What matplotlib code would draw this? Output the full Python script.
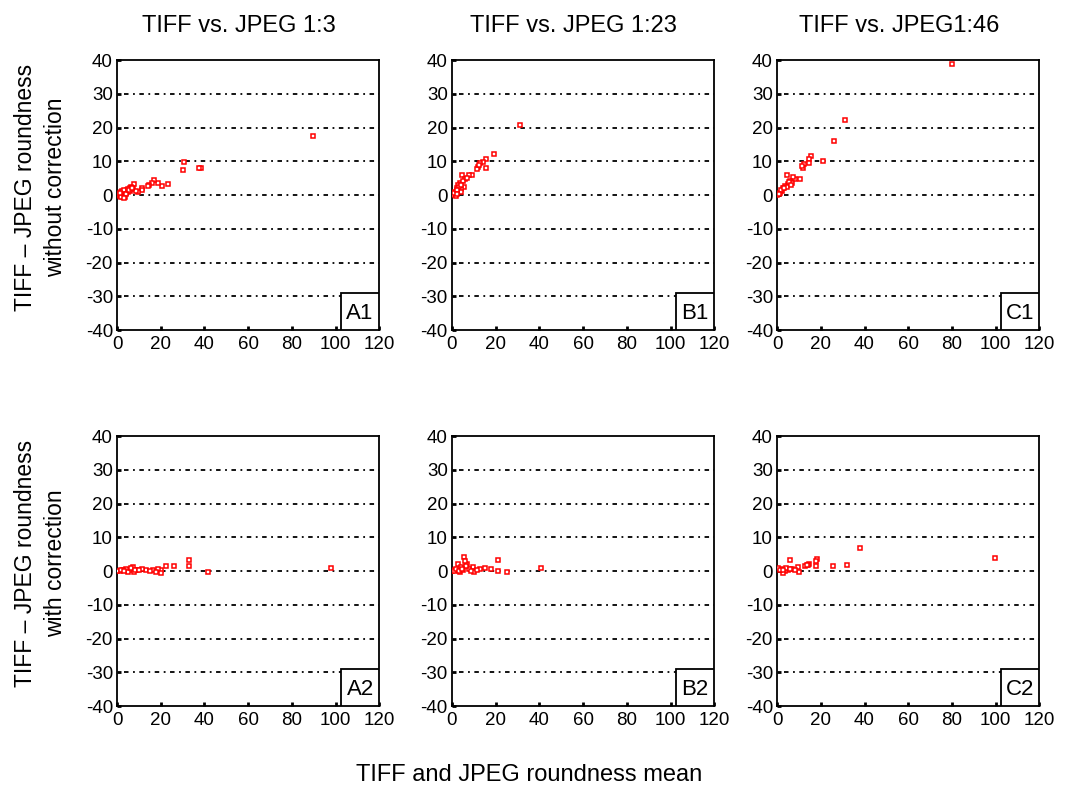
import matplotlib
matplotlib.use("Agg")
import matplotlib.pyplot as plt
from matplotlib.patches import Rectangle

plt.rcParams['font.family'] = ['Liberation Sans', 'DejaVu Sans']
plt.rcParams['axes.unicode_minus'] = False

titles = ["TIFF vs. JPEG 1:3", "TIFF vs. JPEG 1:23", "TIFF vs. JPEG1:46"]
row_labels = ["TIFF \u2013 JPEG roundness\nwithout correction",
              "TIFF \u2013 JPEG roundness\nwith correction"]
panel_tags = [["A1", "B1", "C1"], ["A2", "B2", "C2"]]

# without correction
a1_x = [89.7, 30.6, 30.0, 38.2, 37.6, 23.5, 20.6, 18.8, 17.0, 16.2, 14.7, 14.0, 11.3, 11.3, 9.6,
        7.6, 6.6, 5.9, 4.4, 3.7, 2.9, 2.2, 1.5, 0.7, 3.7, 5.1, 7.4, 8.5, 2.6, 1.9, 6.1, 0.2,
        1.0, 1.8, 2.4, 3.2, 4.0, 4.8, 5.5, 6.8, 3.0, 1.3]
a1_y = [17.5, 9.9, 7.5, 7.9, 7.9, 3.2, 2.7, 3.7, 4.4, 3.7, 2.9, 2.7, 2.2, 1.6, 1.0,
        3.2, 2.5, 2.0, 1.6, 1.0, 0.6, 0.2, -0.2, 0.0, -0.5, 0.8, 1.8, 1.3, -0.7, 0.8, 1.3, 0.1,
        0.4, -0.5, 1.2, 1.5, 0.3, 1.9, 1.4, 2.1, -0.9, 0.6]
b1_x = [31.0, 19.3, 15.7, 15.7, 14.0, 12.9, 11.9, 11.4, 9.3, 7.6, 4.7, 6.1, 5.7, 4.3, 4.3,
        3.6, 2.9, 2.1, 1.4, 0.7, 0.0, 1.9, 5.0, 3.3, 7.1, 1.0, 2.5, 3.9, 2.3, 12.3]
b1_y = [20.8, 12.3, 10.6, 7.9, 9.8, 9.6, 8.4, 7.8, 5.9, 5.9, 6.0, 4.7, 2.5, 1.8, 0.8,
        3.7, 2.9, 2.0, 1.0, 0.3, 0.0, -0.2, 4.2, 2.5, 5.2, 0.6, 1.4, 3.1, 0.2, 9.0]
c1_x = [80.1, 30.9, 26.0, 20.9, 15.3, 14.4, 14.4, 12.5, 11.8, 11.5, 10.3, 8.1, 7.1, 4.7, 5.9,
        5.1, 3.7, 2.9, 2.2, 1.2, 0.0, 6.6, 4.4, 1.8, 3.3, 5.4, 6.2, 0.7]
c1_y = [39.0, 22.2, 16.0, 10.1, 11.6, 10.6, 9.4, 9.1, 8.1, 8.6, 4.9, 4.7, 5.5, 6.1, 4.2,
        3.2, 2.7, 2.0, 1.3, 0.6, 0.0, 3.7, 2.5, 1.6, 2.2, 3.9, 3.0, 0.3]

# with correction
a2_x = [98.0, 33.0, 33.0, 41.5, 26.0, 22.5, 20.0, 18.7, 16.5, 13.3, 11.4, 9.2, 7.3, 5.8, 4.1,
        2.6, 1.2, 0.0, 4.8, 20.0, 18.0, 7.7, 1.8, 3.3, 6.5, 8.3, 15.0, 10.2]
a2_y = [0.9, 3.4, 1.5, -0.4, 1.6, 1.6, 0.2, 0.5, 0.2, 0.2, 0.7, 0.4, 1.2, 0.4, 0.7,
        0.2, 0.0, 0.0, -0.3, -0.6, -0.3, -0.3, 0.3, 0.1, 0.9, 0.2, 0.0, 0.3]
b2_x = [40.6, 21.0, 21.0, 25.0, 18.0, 15.2, 12.8, 10.1, 9.4, 8.0, 7.0, 5.5, 5.8, 2.6, 4.3,
        1.4, 0.0, 3.6, 5.1, 8.7, 0.8, 2.0, 3.0, 6.4, 4.7, 11.5]
b2_y = [0.9, 3.4, 0.0, -0.4, 0.5, 0.9, 0.5, -0.4, 1.2, 0.7, 2.2, 4.2, 3.0, 2.0, 1.2,
        0.4, 0.0, -0.3, 0.2, 0.0, 0.1, 0.6, 0.0, 1.5, 0.6, 0.3]
c2_x = [99.7, 38.0, 31.8, 25.5, 18.4, 18.0, 18.0, 14.6, 12.8, 9.6, 5.8, 7.0, 4.8, 3.4, 1.9,
        0.4, 2.6, 9.9, 14.3, 1.2, 3.9, 5.9, 8.2, 2.8, 13.5]
c2_y = [3.9, 7.0, 1.9, 1.4, 3.6, 3.1, 1.4, 2.2, 1.5, 1.2, 3.3, 0.7, 0.4, 0.0, 0.7,
        1.0, -0.5, -0.3, 1.9, 0.3, 0.9, 0.5, 0.2, 0.4, 1.8]

series = [[(a1_x, a1_y), (b1_x, b1_y), (c1_x, c1_y)],
          [(a2_x, a2_y), (b2_x, b2_y), (c2_x, c2_y)]]

fig = plt.figure(figsize=(10.66, 7.96), dpi=100)

lefts = [0.1098, 0.424, 0.729]
bottoms = [0.5854, 0.113]
w, h = 0.246, 0.339

for r in range(2):
    for c in range(3):
        ax = fig.add_axes([lefts[c], bottoms[r], w, h])
        xs, ys = series[r][c]
        ax.set_xlim(0, 120)
        ax.set_ylim(-40, 40)
        ax.set_xticks(range(0, 121, 20))
        ax.set_yticks(range(-40, 41, 10))
        for yv in range(-30, 31, 10):
            ax.axhline(yv, xmin=0.025, color='black', lw=1.3,
                       dashes=(2.5, 2.5, 1, 2.5), zorder=1)
        ax.plot(xs, ys, linestyle='none', marker='s', markersize=3.5,
                markerfacecolor='white', markeredgecolor='red', mew=1.1, zorder=3)
        ax.tick_params(labelsize=13.5, length=3, width=2, direction='in')
        ax.tick_params(axis='x', pad=4)
        ax.tick_params(axis='y', pad=3)
        for s in ax.spines.values():
            s.set_linewidth(1.3)
        ax.add_patch(Rectangle((0.853, 0.0), 0.147, 0.137, transform=ax.transAxes,
                               facecolor='white', edgecolor='black', lw=1.3, zorder=4))
        ax.text(0.927, 0.063, panel_tags[r][c], transform=ax.transAxes,
                ha='center', va='center', fontsize=16, zorder=5)
        if r == 0:
            ax.set_title(titles[c], fontsize=17, pad=20, x=0.465)

for r, lab in enumerate(row_labels):
    fig.text(0.038, bottoms[r] + h / 2 + 0.01, lab, rotation=90, ha='center', va='center',
             fontsize=16.5, linespacing=1.35)

fig.text(0.496, 0.012, "TIFF and JPEG roundness mean", ha='center', va='bottom', fontsize=17)

fig.savefig("out.png", dpi=100)
